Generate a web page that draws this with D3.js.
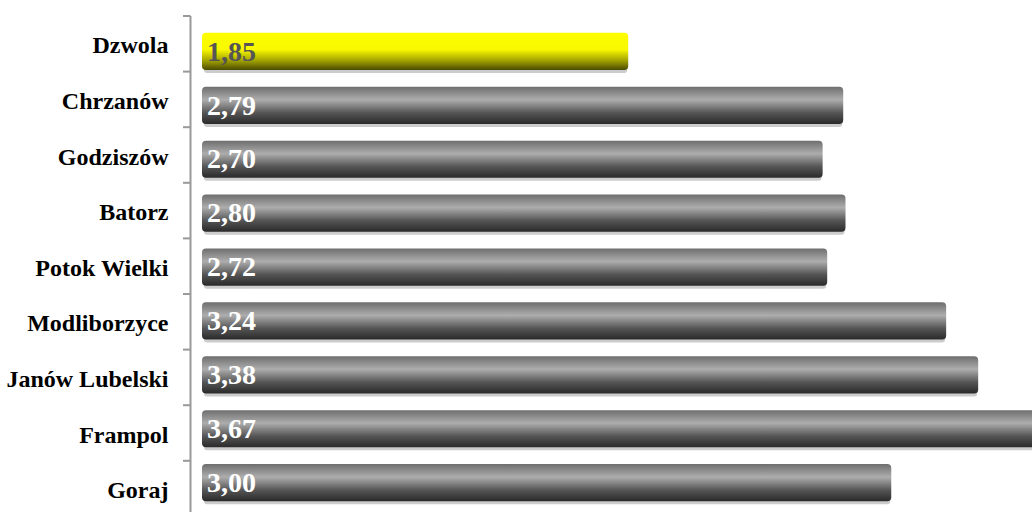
<!DOCTYPE html>
<html>
<head>
<meta charset="utf-8">
<script src="https://cdn.jsdelivr.net/npm/d3@7"></script>
<style>
  body { margin: 0; background: #fff; }
  svg { display: block; }
</style>
</head>
<body>
<div id="chart"></div>
<script>
const gminy = ['Dzwola', 'Chrzanów', 'Godziszów', 'Batorz', 'Potok Wielki', 'Modliborzyce', 'Janów Lubelski', 'Frampol', 'Goraj'];
const wartosci = [1.85, 2.79, 2.70, 2.80, 2.72, 3.24, 3.38, 3.67, 3.00];
const etykiety = ['1,85', '2,79', '2,70', '2,80', '2,72', '3,24', '3,38', '3,67', '3,00'];
const wyrozniona = 'Dzwola';

const w = 1032, h = 512;
const data = gminy.map((g, i) => ({ name: g, value: wartosci[i], label: etykiety[i] }));

const svg = d3.select('#chart').append('svg')
  .attr('width', w)
  .attr('height', h);

const defs = svg.append('defs');
const grey = defs.append('linearGradient').attr('id', 'grey').attr('x1', 0).attr('y1', 0).attr('x2', 0).attr('y2', 1);
grey.append('stop').attr('offset', '0%').attr('stop-color', '#6e6e6e');
grey.append('stop').attr('offset', '35%').attr('stop-color', '#adadad');
grey.append('stop').attr('offset', '70%').attr('stop-color', '#555555');
grey.append('stop').attr('offset', '100%').attr('stop-color', '#2a2a2a');

const yellow = defs.append('linearGradient').attr('id', 'yellow').attr('x1', 0).attr('y1', 0).attr('x2', 0).attr('y2', 1);
yellow.append('stop').attr('offset', '0%').attr('stop-color', '#ffff00');
yellow.append('stop').attr('offset', '45%').attr('stop-color', '#f8f800');
yellow.append('stop').attr('offset', '75%').attr('stop-color', '#a0a000');
yellow.append('stop').attr('offset', '100%').attr('stop-color', '#4a4a00');

// scales
const xScale = d3.scaleLinear().domain([0, 4]).range([205, 1120]);
const yScale = d3.scaleBand().domain(gminy).range([16, 16 + 9 * 55.6]);
const yBar = d3.scaleBand().domain(gminy).range([24.5, 24.5 + 9 * 53.9]).paddingInner(0.31).paddingOuter(0.155);

// axis
const yAxis = d3.axisLeft(yScale).tickSize(0).tickPadding(22);
const axisG = svg.append('g')
  .attr('transform', 'translate(190.5,0)')
  .call(yAxis);
axisG.select('.domain').remove();
axisG.selectAll('text')
  .attr('font-family', '"Liberation Serif", "Times New Roman", serif')
  .attr('font-weight', 'bold')
  .attr('font-size', '24px')
  .attr('fill', '#000')
  .attr('dy', '0.4em');

// axis line + ticks between categories
const tickVals = gminy.map(g => yScale(g)).concat([yScale.range()[1]]);
svg.append('line')
  .attr('x1', 190.5).attr('x2', 190.5)
  .attr('y1', yScale.range()[0]).attr('y2', h)
  .attr('stroke', '#999').attr('stroke-width', 2);
svg.selectAll('.tick-mark')
  .data(tickVals)
  .enter()
  .append('line')
  .attr('class', 'tick-mark')
  .attr('x1', 183).attr('x2', 190.5)
  .attr('y1', d => d).attr('y2', d => d)
  .attr('stroke', '#999').attr('stroke-width', 2);

// bar shadows
svg.selectAll('.shadow')
  .data(data)
  .enter()
  .append('rect')
  .attr('class', 'shadow')
  .attr('x', xScale(0) - 1)
  .attr('y', d => yBar(d.name) + 3)
  .attr('width', d => xScale(d.value) - xScale(0))
  .attr('height', yBar.bandwidth())
  .attr('rx', 3)
  .attr('fill', '#cccccc');

// bars
svg.selectAll('.bar')
  .data(data)
  .enter()
  .append('rect')
  .attr('class', 'bar')
  .attr('x', xScale(0) - 3)
  .attr('y', d => yBar(d.name))
  .attr('width', d => xScale(d.value) - xScale(0) + 3)
  .attr('height', yBar.bandwidth())
  .attr('rx', 4)
  .attr('fill', d => d.name === wyrozniona ? 'url(#yellow)' : 'url(#grey)');

// value labels
svg.selectAll('.val')
  .data(data)
  .enter()
  .append('text')
  .attr('class', 'val')
  .attr('x', xScale(0) + 2)
  .attr('y', d => yBar(d.name) + yBar.bandwidth() / 2)
  .attr('dy', '0.33em')
  .attr('font-family', '"Liberation Serif", "Times New Roman", serif')
  .attr('font-weight', 'bold')
  .attr('font-size', '28px')
  .attr('fill', d => d.name === wyrozniona ? '#555555' : '#ffffff')
  .text(d => d.label);
</script>
</body>
</html>
